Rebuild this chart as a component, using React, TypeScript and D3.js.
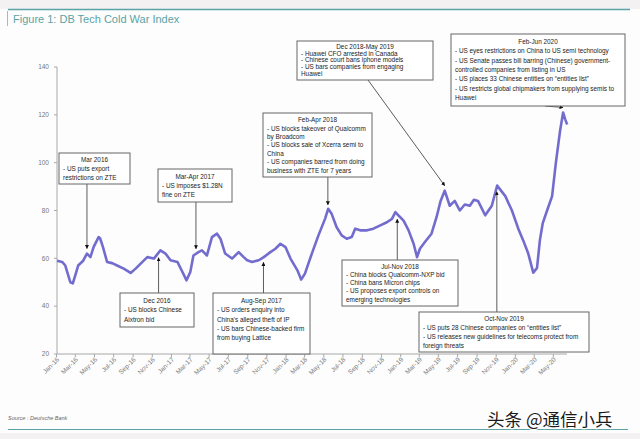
import * as d3 from "d3"

const DATES = [
  "2016-01-03", "2016-01-19", "2016-01-29", "2016-02-14", "2016-02-22", "2016-03-01", "2016-03-10", "2016-03-26",
  "2016-04-07", "2016-04-18", "2016-04-28", "2016-05-14", "2016-05-19", "2016-05-28", "2016-06-10", "2016-06-26",
  "2016-07-12", "2016-08-02", "2016-08-24", "2016-09-09", "2016-09-25", "2016-10-16", "2016-11-06", "2016-11-27",
  "2016-12-13", "2016-12-29", "2017-01-20", "2017-02-05", "2017-02-18", "2017-03-02", "2017-03-12", "2017-03-28",
  "2017-04-08", "2017-04-24", "2017-05-10", "2017-05-26", "2017-06-06", "2017-06-21", "2017-07-13", "2017-08-03",
  "2017-08-19", "2017-08-30", "2017-09-15", "2017-10-06", "2017-10-22", "2017-11-12", "2017-11-28", "2017-12-14",
  "2017-12-30", "2018-01-15", "2018-02-06", "2018-02-18", "2018-03-02", "2018-03-24", "2018-04-14", "2018-05-05",
  "2018-05-15", "2018-05-26", "2018-06-11", "2018-06-27", "2018-07-13", "2018-07-29", "2018-08-09", "2018-08-25",
  "2018-09-16", "2018-10-06", "2018-10-28", "2018-11-18", "2018-12-04", "2018-12-15", "2018-12-25", "2019-01-10",
  "2019-01-26", "2019-02-11", "2019-02-22", "2019-03-03", "2019-03-19", "2019-04-09", "2019-04-25", "2019-05-08",
  "2019-05-21", "2019-06-06", "2019-06-22", "2019-07-08", "2019-07-24", "2019-08-09", "2019-08-22", "2019-09-04",
  "2019-09-27", "2019-10-18", "2019-11-04", "2019-11-30", "2019-12-21", "2020-01-10", "2020-01-26", "2020-02-11",
  "2020-02-27", "2020-03-10", "2020-03-19", "2020-03-28", "2020-04-11", "2020-04-27", "2020-05-09", "2020-05-22",
  "2020-06-01", "2020-06-08", "2020-06-14",
]

const VALUES = [
  59, 58.5, 57, 50, 49.5, 53, 57, 59,
  62, 60.5, 64.7, 68.9, 68.3, 64.7, 58.5, 58,
  57, 55.7, 53.9, 55.7, 57.8, 60.5, 59.9, 63.3,
  62, 59.2, 58.5, 54.3, 50.8, 54.3, 61.2, 62.6,
  63.3, 61.2, 68.9, 70.3, 68.2, 62, 59.9, 62.6,
  60.5, 59.2, 58.5, 59.2, 60.5, 62.6, 64, 66.1,
  64.7, 59.9, 55, 51.1, 53.6, 62, 69.6, 76.5,
  80.7, 78.6, 73, 69.6, 68.2, 68.9, 72.4, 71.7,
  71.7, 72.4, 73.8, 75.1, 76.5, 79.3, 77.9, 75.8,
  71.7, 66.1, 60.5, 64, 66.8, 70.3, 77.2, 84,
  88.3, 82, 84, 80, 82.5, 82, 84.5, 84,
  78, 82, 90.4, 86, 80, 72.5, 67.5, 62,
  54, 56, 67.5, 74.6, 80, 86, 100, 113,
  121, 118, 116,
]

const Y_TICKS = [20, 40, 60, 80, 100, 120, 140]

const X_TICK_LABELS = [
  "Jan-16", "Mar-16", "May-16", "Jul-16", "Sep-16", "Nov-16",
  "Jan-17", "Mar-17", "May-17", "Jul-17", "Sep-17", "Nov-17",
  "Jan-18", "Mar-18", "May-18", "Jul-18", "Sep-18", "Nov-18",
  "Jan-19", "Mar-19", "May-19", "Jul-19", "Sep-19", "Nov-19",
  "Jan-20", "Mar-20", "May-20",
]

const NOTE_TITLES = [
  "Mar 2016", "Mar-Apr 2017", "Feb-Apr 2018", "Dec 2018-May 2019", "Feb-Jun 2020",
  "Dec 2016", "Aug-Sep 2017", "Jul-Nov 2018", "Oct-Nov 2019",
]

const NOTE_LINES = [
  ["- US puts export", "restrictions on ZTE"],
  ["- US imposes $1.28N", "fine on ZTE"],
  ["- US blocks takeover of Qualcomm", "by Broadcom", "- US blocks sale of Xcerra semi to", "China", "- US companies barred from doing", "business with ZTE for 7 years"],
  ["- Huawei CFO arrested in Canada", "- Chinese court bans iphone models", "- US bars companies from engaging", "Huawei"],
  ["- US eyes restrictions on China to US semi technology", "- US Senate passes bill barring (Chinese) government-", "controlled companies from listing in US", "- US places 33 Chinese entities on \u201centities list\u201d", "- US restricts global chipmakers from supplying semis to", "Huawei"],
  ["- US blocks Chinese", "Aixtron bid"],
  ["- US orders enquiry into", "China's alleged theft of IP", "- US bars Chinese-backed firm", "from buying Lattice"],
  ["- China blocks Qualcomm-NXP bid", "- China bans Micron chips", "- US proposes export controls on", "emerging technologies"],
  ["- US puts 28 Chinese companies on \u201centities list\u201d", "- US releases new guidelines for telecoms protect from", "foreign threats"],
]

const NOTE_DATES = [
  "2016-04-07", "2017-03-20", "2018-05-14", "2019-05-21", "2020-06-01",
  "2016-11-21", "2017-10-21", "2018-12-21", "2019-11-03",
]

// box layout (pixels) for each note, same order as above
const BOXES = [
  { x: 59, y: 153, w: 71, h: 31, above: true, sx: null },
  { x: 158, y: 169, w: 74, h: 33, above: true, sx: null },
  { x: 263, y: 113, w: 109, h: 64, above: true, sx: null },
  { x: 297, y: 41, w: 136, h: 39, above: true, sx: 368 },
  { x: 451, y: 34, w: 174, h: 72, above: true, sx: 545 },
  { x: 120, y: 293, w: 74, h: 34, above: false, sx: null },
  { x: 213, y: 293, w: 97, h: 61, above: false, sx: null },
  { x: 342, y: 260, w: 116, h: 46, above: false, sx: null },
  { x: 419, y: 312, w: 170, h: 40, above: false, sx: null },
]

const parseDay = d3.timeParse("%Y-%m-%d")
const parseTick = d3.timeParse("%b-%y")

export default function App() {
  const W = 640
  const H = 439
  const data = DATES.map((d, i) => ({ date: parseDay(d) as Date, value: VALUES[i] }))

  const x = d3.scaleTime()
    .domain([parseDay("2016-01-01") as Date, parseDay("2020-06-15") as Date])
    .range([56.5, 567.5])
  const y = d3.scaleLinear().domain([20, 140]).range([354, 67])

  const line = d3.line<{ date: Date; value: number }>()
    .x((d) => x(d.date))
    .y((d) => y(d.value))

  const bisect = d3.bisector((d: { date: Date }) => d.date).left
  const valueAt = (dt: Date) => {
    const i = bisect(data, dt)
    if (i <= 0) return data[0].value
    if (i >= data.length) return data[data.length - 1].value
    const a = data[i - 1], b = data[i]
    const t = (+dt - +a.date) / (+b.date - +a.date)
    return a.value + (b.value - a.value) * t
  }

  const teal = "#5aa3a6"
  const axisCol = "#a8a8a8"
  const labCol = "#777"
  const boxFont = "'Liberation Sans', Arial, sans-serif"

  return (
    <svg width={W} height={H} style={{ position: "absolute", left: 0, top: 0 }} fontFamily={boxFont}>
      <defs>
        <marker id="ah" viewBox="0 0 10 10" refX="9" refY="5" markerWidth="5" markerHeight="5" orient="auto">
          <path d="M0,0 L10,5 L0,10 z" fill="#111" />
        </marker>
      </defs>
      <rect width={W} height={H} fill="#f3f1f2" />
      <rect x={0} y={9} width={W} height={424} fill="#fdfdfd" />

      {/* header */}
      <line x1={8} x2={630} y1={9.5} y2={9.5} stroke={teal} strokeWidth={1.5} />
      <line x1={7.5} x2={7.5} y1={11} y2={26} stroke="#9bbfc0" strokeWidth={1} />
      <text x={13} y={23} fontSize={11} fill={teal}>Figure 1: DB Tech Cold War Index</text>

      {/* y axis */}
      <line x1={57} x2={57} y1={y(20)} y2={y(140)} stroke={axisCol} strokeWidth={1} />
      {Y_TICKS.map((t) => (
        <g key={t}>
          <line x1={54} x2={57} y1={y(t)} y2={y(t)} stroke={axisCol} />
          <text x={49} y={y(t) + 2.2} fontSize={6.5} textAnchor="end" fill={labCol}>{t}</text>
        </g>
      ))}

      {/* x axis */}
      <line x1={57} x2={567} y1={y(20)} y2={y(20)} stroke={axisCol} strokeWidth={1} />
      {X_TICK_LABELS.map((lab) => {
        const px = x(parseTick(lab) as Date)
        return (
          <g key={lab}>
            <line x1={px} x2={px} y1={y(20)} y2={y(20) + 3} stroke={axisCol} />
            <text
              transform={`translate(${px + 3},${y(20) + 6}) rotate(-45)`}
              fontSize={6.5}
              textAnchor="end"
              fill={labCol}
            >
              {lab}
            </text>
          </g>
        )
      })}

      {/* series */}
      <path d={line(data) || ""} fill="none" stroke="#6b64cc" strokeWidth={2.6} strokeLinejoin="round" opacity={0.95} />

      {/* annotations */}
      {NOTE_TITLES.map((title, i) => {
        const b = BOXES[i]
        const dt = parseDay(NOTE_DATES[i]) as Date
        const tx = x(dt)
        const ty = y(valueAt(dt)) + (b.above ? -5 : 5)
        const sx = b.sx ?? tx
        const sy = b.above ? b.y + b.h : b.y
        const n = NOTE_LINES[i].length + 1
        const lh = Math.min(9.4, (b.h - 5) / n)
        const y0 = b.y + 2.5 + lh * 0.78
        return (
          <g key={title}>
            <line x1={sx} y1={sy} x2={tx} y2={ty} stroke="#333" strokeWidth={0.8} markerEnd="url(#ah)" />
            <rect x={b.x} y={b.y} width={b.w} height={b.h} fill="#fff" stroke="#666" strokeWidth={1} />
            <text x={b.x + b.w / 2} y={y0} fontSize={6.4} textAnchor="middle" fill="#222">{title}</text>
            {NOTE_LINES[i].map((l, j) => (
              <text key={j} x={b.x + 4} y={y0 + (j + 1) * lh} fontSize={6.4} fill="#222">{l}</text>
            ))}
          </g>
        )
      })}

      {/* footer */}
      <text x={8} y={420} fontSize={5.5} fontStyle="italic" fill="#666">Source : Deutsche Bank</text>
      <line x1={8} x2={628} y1={429.5} y2={429.5} stroke={teal} strokeWidth={1.2} />
      <text
        x={487}
        y={426}
        fontSize={17.5}
        fontFamily="'Noto Sans CJK SC', sans-serif"
        fill="#1a1a1a"
        stroke="#fff"
        strokeWidth={2.5}
        paintOrder="stroke"
      >
        头条 @通信小兵
      </text>
    </svg>
  )
}
